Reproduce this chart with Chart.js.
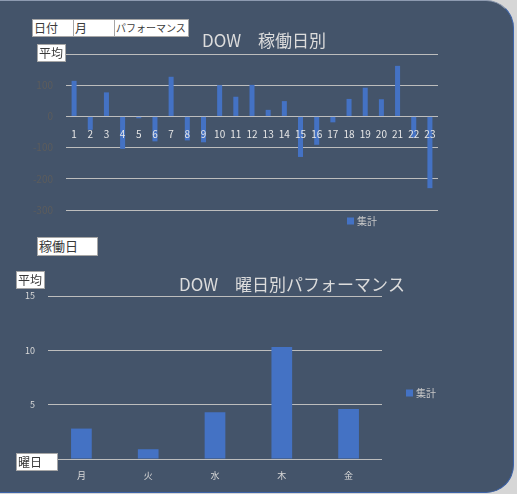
<!DOCTYPE html>
<html>
<head>
<meta charset="utf-8">
<script src="https://cdn.jsdelivr.net/npm/chart.js@4.4.0/dist/chart.umd.min.js"></script>
<style>
html, body { margin: 0; padding: 0; width: 517px; height: 494px; overflow: hidden; background: #d6d6d6; }
#panel { position: absolute; left: -2px; top: 0; width: 515px; height: 491px; background: #44546a;
  border: 1px solid #3d63a8; border-top-color: #8d9ab0; border-left: none; border-radius: 0 28px 28px 0; }
canvas { position: absolute; left: 0; }
.fb { position: absolute; background: #fff; border: 1px solid #a6a6a6; box-sizing: border-box;
  font-family: "Noto Sans CJK JP", sans-serif; color: #3a3a3a; font-size: 12px; line-height: 16px;
  padding-left: 1px; white-space: nowrap; overflow: hidden; }
</style>
</head>
<body>
<div id="panel"></div>
<canvas id="dayChart" width="517" height="240" style="top:0"></canvas>
<canvas id="dowChart" width="517" height="234" style="top:260px"></canvas>

<div class="fb" style="left:32px;top:19px;width:42px;height:18px">日付</div>
<div class="fb" style="left:73px;top:19px;width:42px;height:18px">月</div>
<div class="fb" style="left:114px;top:19px;width:75px;height:18px;font-size:10px">パフォーマンス</div>
<div class="fb" style="left:37px;top:44px;width:29px;height:18px">平均</div>
<div class="fb" style="left:37px;top:237px;width:61px;height:19px;font-size:13px">稼働日</div>
<div class="fb" style="left:16px;top:271px;width:29px;height:18px">平均</div>
<div class="fb" style="left:16px;top:453px;width:42px;height:18px">曜日</div>

<script>
// 稼働日別 (1..23) の平均
const days = ['1', '2', '3', '4', '5', '6', '7', '8', '9', '10', '11', '12',
              '13', '14', '15', '16', '17', '18', '19', '20', '21', '22', '23'];
const dayAvg = [114, -43, 77, -104, -6, -80, 127, -77, -83, 100, 63, 101,
                21, 49, -130, -91, -19, 56, 92, 55, 162, -69, -230];

// 曜日別の平均
const weekdays = ['月', '火', '水', '木', '金'];
const weekdayAvg = [2.8, 0.9, 4.3, 10.3, 4.6];

const seriesName = '集計';
const dayTitle = 'DOW　稼働日別';
const dowTitle = 'DOW　曜日別パフォーマンス';

Chart.defaults.font.family = '"Noto Sans CJK JP", "Noto Sans", sans-serif';

// title + legend drawn where the original sheet has them
const overlay = {
    id: 'overlay',
    afterDraw(chart, args, opts) {
        const ctx = chart.ctx;
        const ds = chart.data.datasets[0];
        ctx.save();
        ctx.fillStyle = '#dcdcdc';
        ctx.font = '17px "Noto Sans CJK JP"';
        ctx.textAlign = 'center';
        ctx.textBaseline = 'middle';
        ctx.fillText(opts.title, opts.titleX, opts.titleY);

        ctx.fillStyle = ds.backgroundColor;
        ctx.fillRect(opts.legendX, opts.legendY - 3.5, 7, 7);
        ctx.fillStyle = '#c8c8c8';
        ctx.font = '10px "Noto Sans CJK JP"';
        ctx.textAlign = 'left';
        ctx.fillText(ds.label, opts.legendX + 10, opts.legendY);
        ctx.restore();
    }
};

new Chart(document.getElementById('dayChart'), {
    type: 'bar',
    data: {
        labels: days,
        datasets: [{
            label: seriesName,
            data: dayAvg,
            backgroundColor: '#4472c4',
            barPercentage: 0.31,
            categoryPercentage: 1
        }]
    },
    options: {
        responsive: false,
        animation: false,
        layout: { padding: { left: 0, right: 79, top: 54, bottom: 30 } },
        scales: {
            x: {
                position: { y: 0 },
                grid: { display: false },
                border: { display: false },
                ticks: { z: 1, color: '#e6e6e6', font: { size: 10 }, padding: 4, maxRotation: 0, autoSkip: false }
            },
            y: {
                min: -300,
                max: 200,
                ticks: { stepSize: 100, color: '#5c5c5c', font: { size: 10 }, padding: 13 },
                grid: { color: '#bdbdbd', drawTicks: false },
                border: { display: false },
                afterFit: s => { s.width = 66; }
            }
        },
        plugins: {
            legend: { display: false },
            tooltip: { enabled: false },
            overlay: { title: dayTitle, titleX: 264, titleY: 41, legendX: 347, legendY: 221 }
        }
    },
    plugins: [overlay]
});

new Chart(document.getElementById('dowChart'), {
    type: 'bar',
    data: {
        labels: weekdays,
        datasets: [{
            label: seriesName,
            data: weekdayAvg,
            backgroundColor: '#4472c4',
            barPercentage: 0.31,
            categoryPercentage: 1
        }]
    },
    options: {
        responsive: false,
        animation: false,
        layout: { padding: { left: 0, right: 135, top: 36, bottom: 10 } },
        scales: {
            x: {
                grid: { display: false },
                border: { display: false },
                ticks: { color: '#d9d9d9', font: { size: 9 }, padding: 3 },
                afterFit: s => { s.height = 25; }
            },
            y: {
                min: 0,
                max: 15,
                ticks: { stepSize: 5, color: '#d9d9d9', font: { size: 9 }, padding: 13 },
                grid: { color: '#bdbdbd', drawTicks: false },
                border: { display: false },
                afterFit: s => { s.width = 48; }
            }
        },
        plugins: {
            legend: { display: false },
            tooltip: { enabled: false },
            overlay: { title: dowTitle, titleX: 292, titleY: 24.5, legendX: 406, legendY: 133 }
        }
    },
    plugins: [overlay]
});
</script>
</body>
</html>
